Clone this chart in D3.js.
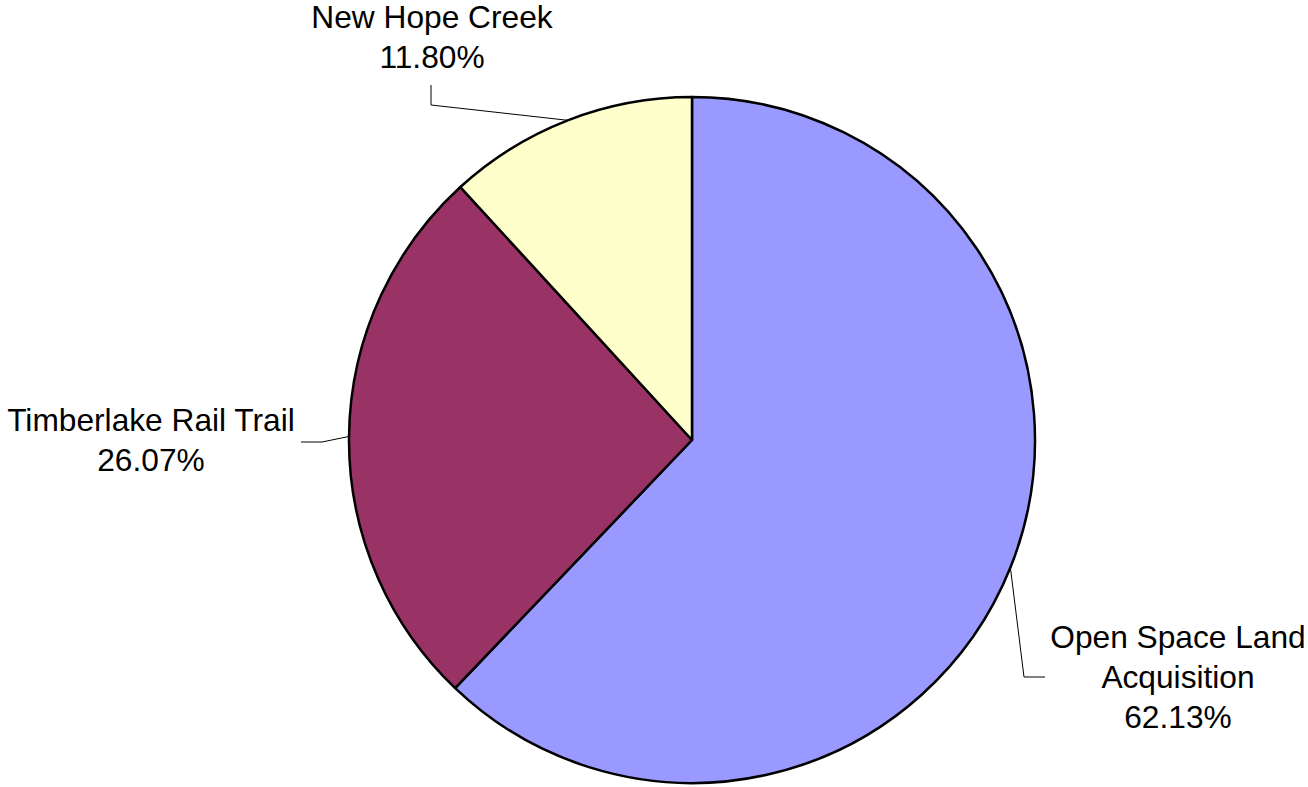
<!DOCTYPE html>
<html>
<head>
<meta charset="utf-8">
<script src="https://cdn.jsdelivr.net/npm/d3@7"></script>
<style>
  body { margin: 0; background: #fff; }
  svg text { font-family: "Liberation Sans", Arial, sans-serif; font-size: 31.7px; fill: #000; }
</style>
</head>
<body>
<div id="chart"></div>
<script>
// slice data, clockwise from 12 o'clock
var names = ["Open Space Land Acquisition", "Timberlake Rail Trail", "New Hope Creek"];
var shares = [62.13, 26.07, 11.80];
var labelLines = [["Open Space Land", "Acquisition", "62.13%"], ["Timberlake Rail Trail", "26.07%"], ["New Hope Creek", "11.80%"]];
var colors = ["#9999ff", "#993366", "#ffffcc"];

var width = 1308, height = 787;
var cx = 692, cy = 440, radius = 343;
var lineH = 40;

// where each label sits (text centre x, first baseline y) and its leader elbow/end
var labelPos = [
  {x: 1178, y: 648, elbow: [1024, 677], end: [1045, 677]},
  {x: 151, y: 431, elbow: [322, 442], end: [301, 442]},
  {x: 432, y: 28, elbow: [431, 105], end: [431, 85]}
];

var svg = d3.select("#chart").append("svg")
  .attr("width", width)
  .attr("height", height);

var pie = d3.pie().sort(null).value(function(d) { return d; });
var arcs = pie(shares);
var arc = d3.arc().innerRadius(0).outerRadius(radius);

var g = svg.append("g").attr("transform", "translate(" + cx + "," + cy + ")");

g.selectAll("path.slice")
  .data(arcs)
  .enter().append("path")
  .attr("class", "slice")
  .attr("d", arc)
  .attr("fill", function(d, i) { return colors[i]; })
  .attr("stroke", "#000")
  .attr("stroke-width", 2.5)
  .attr("stroke-linejoin", "round");

// leader lines from the middle of each slice's rim
arcs.forEach(function(d, i) {
  var a = (d.startAngle + d.endAngle) / 2;
  var px = cx + radius * Math.sin(a);
  var py = cy - radius * Math.cos(a);
  var p = labelPos[i];
  svg.append("polyline")
    .attr("points", [[px, py], p.elbow, p.end].map(function(q) { return q.join(","); }).join(" "))
    .attr("fill", "none")
    .attr("stroke", "#000")
    .attr("stroke-width", 1);
});

labelLines.forEach(function(lines, i) {
  var p = labelPos[i];
  var t = svg.append("text")
    .attr("text-anchor", "middle")
    .attr("x", p.x)
    .attr("y", p.y);
  lines.forEach(function(s, j) {
    t.append("tspan").attr("x", p.x).attr("y", p.y + j * lineH).text(s);
  });
});
</script>
</body>
</html>
